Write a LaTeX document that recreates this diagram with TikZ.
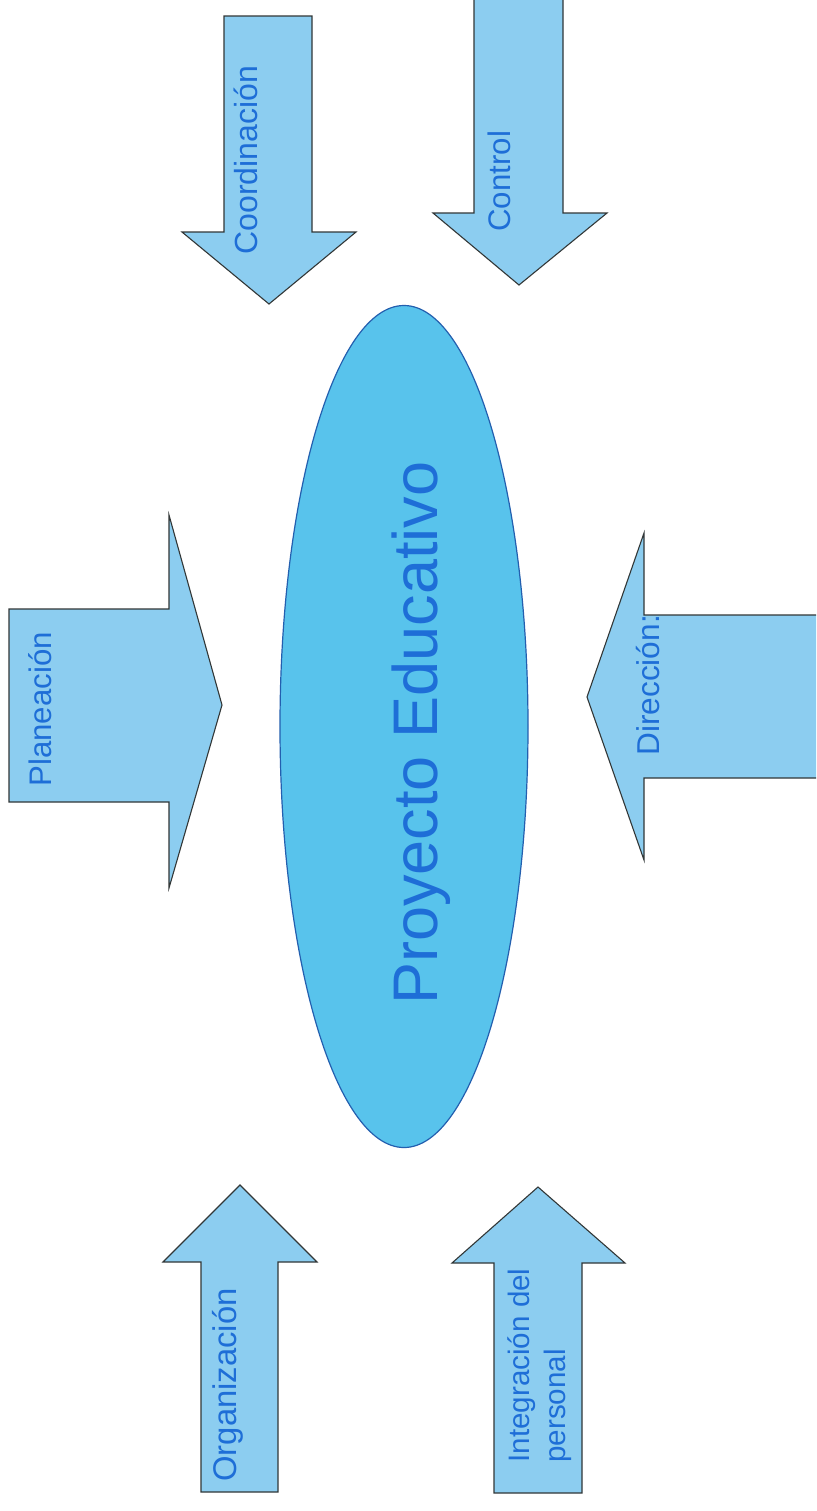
\documentclass[tikz,border=0pt]{standalone}
\usepackage{fontspec}
\setmainfont{Liberation Sans}
\usetikzlibrary{shapes.geometric}
\definecolor{arrowfill}{RGB}{140,205,240}
\definecolor{ellfill}{RGB}{88,195,236}
\definecolor{ellline}{RGB}{35,95,175}
\definecolor{txtblue}{RGB}{30,110,215}
\definecolor{edge}{RGB}{50,55,55}
\tikzset{
  blockarrow/.style={fill=arrowfill, draw=edge, line width=0.55pt, line join=miter},
  lbl/.style={rotate=90, anchor=base west, inner sep=0pt, text=txtblue},
}
\begin{document}
\begin{tikzpicture}[x=0.5pt,y=-0.5pt]
\useasboundingbox (0,0) rectangle (816,1511);
\fill[white] (0,0) rectangle (816,1511);
\clip (0,0) rectangle (816,1511);
% Coordinacion (down)
\draw[blockarrow] (224,16) -- (312,16) -- (312,232) -- (356,232) -- (269,304) -- (182,232) -- (224,232) -- cycle;
% Control (down)
\draw[blockarrow] (474,-10) -- (563,-10) -- (563,213) -- (607,213) -- (519,285) -- (433,213) -- (474,213) -- cycle;
% Planeacion (right)
\draw[blockarrow] (9,609) -- (169,609) -- (169,515) -- (222,705) -- (169,888) -- (169,802) -- (9,802) -- cycle;
% Direccion (left)
\draw[blockarrow] (830,615) -- (644,615) -- (644,533) -- (587,697) -- (644,860) -- (644,778) -- (830,778);
% Organizacion (up)
\draw[blockarrow] (201,1492) -- (201,1262) -- (163,1262) -- (240,1185) -- (317,1262) -- (278,1262) -- (278,1492) -- cycle;
% Integracion (up)
\draw[blockarrow] (494,1493) -- (494,1263) -- (452,1263) -- (538,1187) -- (625,1263) -- (582,1263) -- (582,1493) -- cycle;
% Ellipse
\node[ellipse, draw=ellline, fill=ellfill, line width=0.6pt, minimum width=124pt, minimum height=421pt, inner sep=0pt] (pe) at (404,726.5) {};
\node[lbl, font=\fontsize{31.5}{36}\selectfont] (pet) at (437,1005) {Proyecto Educativo};
% Labels
\node[lbl, font=\fontsize{16}{19}\selectfont] (coord) at (257,255) {Coordinación};
\node[lbl, font=\fontsize{15.6}{19}\selectfont] (ctrl) at (510,232) {Control};
\node[lbl, font=\fontsize{15.6}{19}\selectfont] (plan) at (51,787) {Planeación};
\node[lbl, font=\fontsize{15.8}{19}\selectfont] (dir) at (659,756) {Dirección:};
\node[lbl, font=\fontsize{16.4}{19}\selectfont] (org) at (236,1482) {Organización};
\node[lbl, font=\fontsize{14.8}{18}\selectfont] (intA) at (529,1463) {Integración del};
\node[lbl, font=\fontsize{14.8}{18}\selectfont] (intB) at (565,1463) {personal};
\end{tikzpicture}
\end{document}
